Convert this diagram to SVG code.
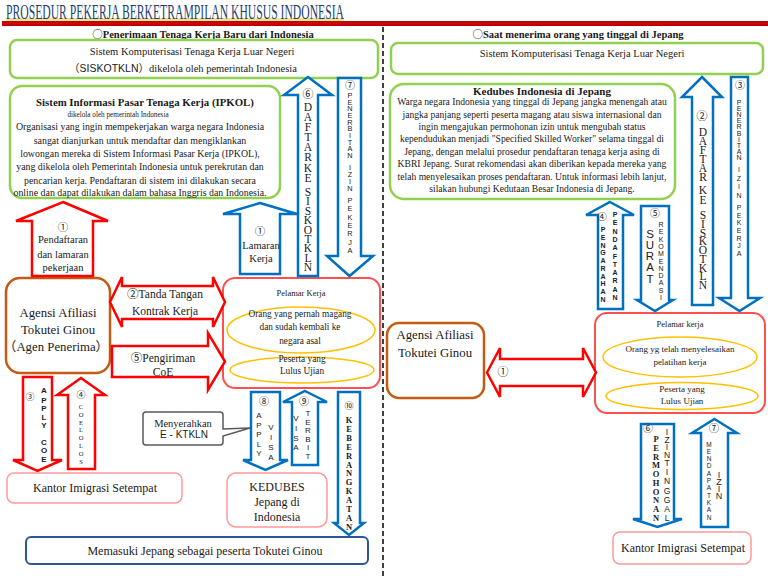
<svg xmlns="http://www.w3.org/2000/svg" width="768" height="576" viewBox="0 0 768 576">
<defs>
<linearGradient id="rb" x1="0" y1="0" x2="0" y2="1">
<stop offset="0" stop-color="#8B1A1A"/>
<stop offset="0.45" stop-color="#E00000"/>
<stop offset="1" stop-color="#B00000"/>
</linearGradient>
<style>
text{font-family:"Liberation Serif","Noto Sans CJK JP",serif;fill:#1a1a1a;text-anchor:middle}
.sans{font-family:"Liberation Sans","DejaVu Sans","Noto Sans CJK JP",sans-serif}
.cjk{font-family:"Noto Sans CJK JP",sans-serif;font-weight:normal}
.b{font-weight:bold}
.gb{fill:#fff;stroke:#92D050;stroke-width:2.5}
.ra{fill:#fff;stroke:#FF0000;stroke-width:2.5}
.ba{fill:#fff;stroke:#0070C0;stroke-width:2.5}
.pk{fill:#fff;stroke:#FF9999;stroke-width:1.5}
.pl{fill:#fff;stroke:#FF5050;stroke-width:2}
.el{fill:none;stroke:#FFC000;stroke-width:1.5}
.ag{fill:#fff;stroke:#C55A11;stroke-width:2.5}
</style>
</defs>
<rect width="768" height="576" fill="#fff"/>

<g id="title">
<rect x="6" y="18" width="338" height="3" fill="#F6D55C" opacity="0.7"/>
<text x="6" y="18.5" font-size="20.5" textLength="338" lengthAdjust="spacingAndGlyphs" style="text-anchor:start;fill:#243F73">PROSEDUR PEKERJA BERKETRAMPILAN KHUSUS INDONESIA</text>
<rect x="2" y="21" width="766" height="5" fill="url(#rb)"/>
</g>

<line x1="383" y1="27" x2="383" y2="576" stroke="#000" stroke-width="1.5" stroke-dasharray="5,3"/>

<text x="203" y="37.5" font-size="10.5" class="b"><tspan class="cjk">○</tspan>Penerimaan Tenaga Kerja Baru dari Indonesia</text>
<text x="578" y="37.5" font-size="10.5" class="b"><tspan class="cjk">○</tspan>Saat menerima orang yang tinggal di Jepang</text>

<!-- LEFT SIDE NODES -->
<g id="siskotkln-left">
<rect class="gb" x="10" y="40" width="368" height="38" rx="7"/>
<text x="192" y="55" font-size="10.5">Sistem Komputerisasi Tenaga Kerja Luar Negeri</text>
<text x="183" y="72" font-size="10.5"><tspan class="sans">（SISKOTKLN）</tspan>dikelola oleh pemerintah Indonesia</text>
</g>

<g id="ipkol">
<rect class="gb" x="10" y="86" width="270" height="112" rx="12"/>
<text x="145" y="106" font-size="10.8" class="b">Sistem Informasi Pasar Tenaga Kerja (IPKOL)</text>
<text x="118" y="117" font-size="7.2">dikelola oleh pemerintah Indonesia</text>
<text x="140" y="130" font-size="9.9">Organisasi yang ingin mempekerjakan warga negara Indonesia</text>
<text x="140" y="144" font-size="9.9">sangat dianjurkan untuk mendaftar dan mengiklankan</text>
<text x="140" y="157" font-size="9.9">lowongan mereka di Sistem Informasi Pasar Kerja (IPKOL),</text>
<text x="140" y="170" font-size="9.9">yang dikelola oleh Pemerintah Indonesia untuk perekrutan dan</text>
<text x="140" y="184" font-size="9.9">pencarian kerja. Pendaftaran di sistem ini dilakukan secara</text>
<text x="140" y="196" font-size="9.9">online dan dapat dilakukan dalam bahasa Inggris dan Indonesia.</text>
</g>

<g id="agensi-left">
<rect class="ag" x="6" y="278" width="104" height="95" rx="14"/>
<text x="58" y="317" font-size="12.8">Agensi Afiliasi</text>
<text x="58" y="334" font-size="12.8">Tokutei Ginou</text>
<text x="56" y="351" font-size="12.8">（Agen Penerima）</text>
</g>

<g id="pelamar-left">
<rect class="pl" x="223" y="278" width="157" height="110" rx="12"/>
<text x="301" y="296" font-size="8.5">Pelamar Kerja</text>
<ellipse class="el" cx="301" cy="330" rx="74" ry="23"/>
<text x="300" y="317" font-size="9.3">Orang yang pernah magang</text>
<text x="300" y="330" font-size="9.3">dan sudah kembali ke</text>
<text x="300" y="344" font-size="9.3">negara asal</text>
<ellipse class="el" cx="302" cy="370" rx="72" ry="13"/>
<text x="302" y="362" font-size="9.3">Peserta yang</text>
<text x="302" y="374" font-size="9.3">Lulus Ujian</text>
</g>

<g id="kantor-left">
<rect class="pk" x="7" y="473" width="175" height="30" rx="7"/>
<text x="95" y="492" font-size="12">Kantor Imigrasi Setempat</text>
</g>

<g id="kedubes-jepang">
<rect class="pk" x="227" y="473" width="100" height="54" rx="9"/>
<text x="277" y="491" font-size="12">KEDUBES</text>
<text x="277" y="506" font-size="12">Jepang di</text>
<text x="277" y="521" font-size="12">Indonesia</text>
</g>

<g id="callout">
<path d="M146,412 H220 Q223,412 223,415 V429 L250,428 L223,436 V442 Q223,445 220,445 H146 Q143,445 143,442 V415 Q143,412 146,412 Z" fill="#fff" stroke="#595959" stroke-width="1.5"/>
<text x="183" y="427" font-size="10.5">Menyerahkan</text>
<text x="184" y="438" font-size="10" class="sans">E - KTKLN</text>
</g>

<g id="memasuki">
<rect x="26" y="537" width="342" height="27" rx="5" fill="#fff" stroke="#2F5597" stroke-width="2"/>
<text x="205" y="555" font-size="12">Memasuki Jepang sebagai peserta Tokutei Ginou</text>
</g>

<!-- RIGHT SIDE NODES -->
<g id="siskotkln-right">
<rect class="gb" x="391" y="43" width="372" height="31" rx="7"/>
<text x="582" y="56.5" font-size="10.5">Sistem Komputerisasi Tenaga Kerja Luar Negeri</text>
</g>

<g id="kedubes-indonesia">
<rect class="gb" x="390" y="84" width="285" height="115" rx="14"/>
<text x="542" y="95" font-size="11" class="b">Kedubes Indonesia di Jepang</text>
<text x="532" y="105" font-size="9.6">Warga negara Indonesia yang tinggal di Jepang jangka menengah atau</text>
<text x="532" y="117.5" font-size="9.6">jangka panjang seperti peserta magang atau siswa internasional dan</text>
<text x="532" y="129.5" font-size="9.6">ingin mengajukan permohonan izin untuk mengubah status</text>
<text x="532" y="142" font-size="9.6">kependudukan menjadi "Specified Skilled Worker" selama tinggal di</text>
<text x="532" y="155" font-size="9.6">Jepang, dengan melalui prosedur pendaftaran tenaga kerja asing di</text>
<text x="532" y="167" font-size="9.6">KBRI Jepang. Surat rekomendasi akan diberikan kepada mereka yang</text>
<text x="532" y="180" font-size="9.6">telah menyelesaikan proses pendaftaran. Untuk informasi lebih lanjut,</text>
<text x="532" y="192" font-size="9.6">silakan hubungi Kedutaan Besar Indonesia di Jepang.</text>
</g>

<g id="agensi-right">
<rect class="ag" x="387" y="323" width="97" height="75" rx="12"/>
<text x="435" y="339" font-size="12.8">Agensi Afiliasi</text>
<text x="435" y="357" font-size="12.8">Tokutei Ginou</text>
</g>

<g id="pelamar-right">
<rect class="pl" x="595" y="313" width="170" height="100" rx="12"/>
<text x="680" y="327" font-size="8.5">Pelamar kerja</text>
<ellipse class="el" cx="680" cy="357" rx="77" ry="20"/>
<text x="680" y="352" font-size="9">Orang yg telah menyelesaikan</text>
<text x="680" y="365" font-size="9">pelatihan kerja</text>
<ellipse class="el" cx="682" cy="396" rx="76" ry="13.5"/>
<text x="682" y="392" font-size="9">Peserta yang</text>
<text x="682" y="404" font-size="9">Lulus Ujian</text>
</g>

<g id="kantor-right">
<rect class="pk" x="613" y="532" width="138" height="32" rx="7"/>
<text x="683" y="552" font-size="12">Kantor Imigrasi Setempat</text>
</g>

<!-- CONNECTORS -->
<g id="connectors">
<!-- left red 1 -->
<path class="ra" d="M63,202 L108,221 L93,221 L93,276 L32,276 L32,221 L16,221 Z"/>
<text x="63" y="231" font-size="10.5">①</text>
<text x="63" y="243" font-size="10.5">Pendaftaran</text>
<text x="63" y="258" font-size="10.5">dan lamaran</text>
<text x="63" y="271" font-size="10.5">pekerjaan</text>

<!-- left blue 1 -->
<path class="ba" d="M260,203 L297,214 L280,214 L280,274 L240,274 L240,214 L223,214 Z"/>
<text x="260" y="235" font-size="10.5">①</text>
<text x="261" y="249" font-size="10.5">Lamaran</text>
<text x="261" y="262" font-size="10.5">Kerja</text>

<!-- left blue 6 -->
<path class="ba" d="M308,77 L332,95 L318,95 L318,276 L298,276 L298,95 L284,95 Z"/>
<text x="308" y="98" font-size="11">⑥</text>
<text font-size="11.5" x="308 308 308 308 308 308 308 308 308 308 308 308 308 308 308 308 308 308 308" y="111 121 131 141 151 161 166 172 182 188 196 205 215 224 234 243 252 262 271">DAFTAR KE SISKOTKLN</text>

<!-- left blue 7 -->
<path class="ba" d="M338,78 L361,78 L361,256 L373,256 L349.5,276 L327,256 L338,256 Z"/>
<text x="350" y="89" font-size="10">⑦</text>
<text class="sans" font-size="7.3" x="350 350 350 350 350 350 350 350 350 350 350 350 350 350 350 350 350 350 350 350 350 350 350" y="98 104.7 111.3 118 124.7 131.3 138 144.7 151.3 158 164 170 177 184 191 197 203 211 220 228 236 245 253">PENERBITAN IZIN PEKERJA</text>

<!-- left red 2 double -->
<path class="ra" d="M110,302 L122,277 L122,286 L213,286 L213,277 L225,302 L213,327 L213,319 L122,319 L122,327 Z"/>
<text x="165" y="298" font-size="11.5">②Tanda Tangan</text>
<text x="165" y="315" font-size="11.5">Kontrak Kerja</text>

<!-- left red 5 -->
<path class="ra" d="M112,346 L208,346 L208,333 L225,361.5 L208,390 L208,377 L112,377 Z"/>
<text x="163" y="362" font-size="11.5">⑤Pengiriman</text>
<text x="163" y="376" font-size="11.5">CoE</text>

<!-- left red 3 down -->
<path class="ra" d="M23,377 L52,377 L52,460 L62,460 L37.5,471 L13,460 L23,460 Z"/>
<text x="30" y="400" font-size="9">③</text>
<text class="sans b" font-size="8" x="44 44 44 44 44 44 44 44 44" y="393 403 411 420 428 436 445 453 462">APPLY COE</text>

<!-- left red 4 up -->
<path class="ra" d="M81,378 L105,395 L95,395 L95,469 L68,469 L68,395 L57,395 Z"/>
<text x="81" y="398" font-size="9">④</text>
<text font-size="6.5" x="81 81 81 81 81 81 81 81 81" y="409 417 425 428 432 440 448 456 464">COE LOLOS</text>

<!-- blue 8 down -->
<path class="ba" d="M251,392 L280,392 L280,460 L288,460 L265.5,470 L243,460 L251,460 Z"/>
<text x="264" y="405" font-size="10">⑧</text>
<text class="sans" font-size="8" x="259 259 259 259 259 259 271 271 271 271" y="418 427.5 437 446.5 456 456 430 440 450 460">APPLY VISA</text>

<!-- blue 9 up -->
<path class="ba" d="M305,391 L327,402 L318,402 L318,465 L292,465 L292,402 L283,402 Z"/>
<text x="304" y="405" font-size="10">⑨</text>
<text class="sans" font-size="8" x="296 296 296 296 296 308 308 308 308 308 308" y="421 431 441 450 450 416 424.6 433.2 441.8 450.4 459">VISA TERBIT</text>

<!-- blue 10 down -->
<path class="ba" d="M338,392 L360,392 L360,523 L364,523 L349,535 L334,523 L338,523 Z"/>
<text x="349" y="409" font-size="9">⑩</text>
<text class="b" font-size="8.5" x="349 349 349 349 349 349 349 349 349 349 349 349 349" y="423 431.9 440.8 449.7 458.6 467.5 476.4 485.3 494.2 503.1 512 520.9 529.8">KEBERANGKATAN</text>

<!-- right red 1 double -->
<path class="ra" d="M487,372.5 L500,348 L500,359 L583,359 L583,348 L596,372.5 L583,397 L583,386 L500,386 L500,397 Z"/>
<text x="503" y="376" font-size="11">①</text>

<!-- right blue 2 up -->
<path class="ba" d="M702,77 L722,97 L713,97 L713,305 L692,305 L692,97 L682,97 Z"/>
<text x="702" y="120" font-size="11">②</text>
<text font-size="11.5" x="703 703 703 703 703 703 703 703 703 703 703 703 703 703 703 703 703 703 703" y="136 145 154 163 172 181 187 194 204 210 219 227.75 236.5 245.25 254 262.75 271.5 280.25 289">DAFTAR KE SISKOTKLN</text>

<!-- right blue 3 down -->
<path class="ba" d="M731,77 L748,77 L748,298 L760,298 L739.5,311 L719,298 L731,298 Z"/>
<text x="740" y="89" font-size="10">③</text>
<text class="sans" font-size="7" x="739 739 739 739 739 739 739 739 739 739 739 739 739 739 739 739 739 739 739 739 739 739 739" y="105 111.1 117.2 123.3 129.4 135.5 141.6 147.7 153.8 160 166 172 180.7 189.3 198 204 210 217.7 225.3 233 240.7 248.3 256">PENERBITAN IZIN PEKERJA</text>

<!-- right blue 4 up -->
<path class="ba" d="M610,202 L634,215 L623,215 L623,309 L598,309 L598,215 L586,215 Z"/>
<text x="602" y="220" font-size="9.5">④</text>
<text class="sans b" font-size="7" x="603 603 603 603 603 603 603 603 603 603" y="232 239.8 247.6 255.3 263.1 270.9 278.7 286.4 294.2 302">PENGARAHAN</text>
<text class="sans b" font-size="7" x="615 615 615 615 615 615 615 615 615 615 615" y="217 225.3 233.6 241.9 250.2 258.5 266.8 275.1 283.4 291.7 300">PENDAFTARAN</text>

<!-- right blue 5 down -->
<path class="ba" d="M641,206 L669,206 L669,300 L673,300 L655,311 L637,300 L641,300 Z"/>
<text x="655" y="217" font-size="10">⑤</text>
<text class="sans" font-size="11.5" x="650 650 650 650 650" y="237.5 248.75 260 271.25 282.5">SURAT</text>
<text class="sans" font-size="7" x="661 661 661 661 661 661 661 661 661 661 661" y="227 234.3 241.6 248.9 256.2 263.5 270.8 278.1 285.4 292.7 300">REKOMENDASI</text>

<!-- right blue 6 down -->
<path class="ba" d="M641,424 L674,424 L674,519 L682,519 L657.5,527 L633,519 L641,519 Z"/>
<text x="648" y="432" font-size="10">⑥</text>
<text class="b" font-size="8.5" x="656 656 656 656 656 656 656 656 656 656" y="442 450.8 459.6 468.3 477.1 485.9 494.7 503.4 512.2 521">PERMOHONAN</text>
<text class="sans" font-size="8.5" x="667 667 667 667 667 667 667 667 667 667 667 667" y="435 442.7 450.3 458 462 466 475.2 484.3 493.5 502.7 511.8 521">IZIN TINGGAL</text>

<!-- right blue 7 up -->
<path class="ba" d="M714.5,419 L737,433 L728,433 L728,527 L701,527 L701,433 L692,433 Z"/>
<text x="714" y="432" font-size="10">⑦</text>
<text class="sans" font-size="6.5" x="709 709 709 709 709 709 709 709 709 709 709" y="446.5 453.8 461.1 468.4 475.7 483 490.3 497.6 504.9 512.2 519.5">MENDAPATKAN</text>
<text class="sans" font-size="9" x="719 719 719 719" y="477.5 484.5 491.5 498.5">IZIN</text>
</g>
</svg>
